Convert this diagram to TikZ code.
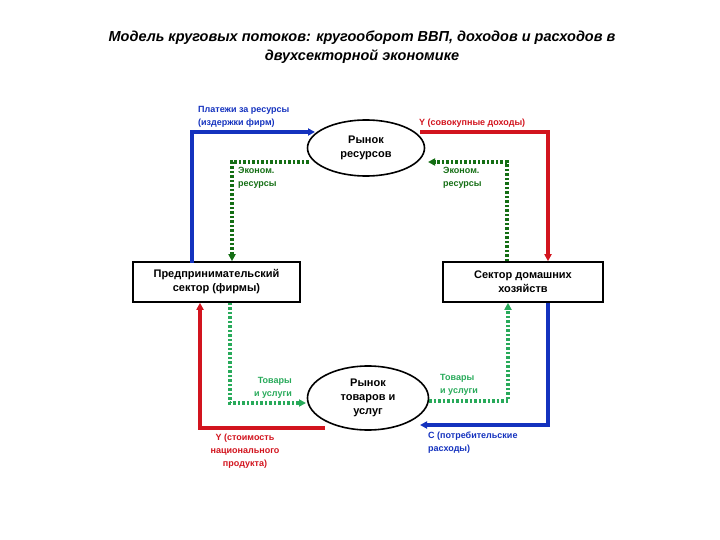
\documentclass[tikz,border=0pt]{standalone}
\usepackage{fontspec}
\setmainfont{Liberation Sans}
\usetikzlibrary{arrows.meta,shapes.geometric}
\begin{document}
\begin{tikzpicture}[x=1pt,y=-1pt,
  box/.style={draw,line width=1.6pt,minimum width=167pt,minimum height=40pt,align=center,font=\bfseries\fontsize{11}{14}\selectfont,inner sep=1pt},
  ell/.style={draw,ellipse,line width=1.6pt,align=center,font=\bfseries\fontsize{11}{14}\selectfont,inner sep=0pt},
  lab/.style={font=\bfseries\fontsize{9}{13}\selectfont,inner sep=0pt},
  solidarr/.style={line width=3.2pt,-{Triangle[length=7pt,width=7pt]}},
  dotarr/.style={line width=3.2pt,dash pattern=on 2.5pt off 2pt,-{Triangle[length=7pt,width=7pt]}}]
\useasboundingbox (0,0) rectangle (720,540);
\definecolor{bl}{RGB}{20,50,190}
\definecolor{rd}{RGB}{210,20,30}
\definecolor{dg}{RGB}{20,110,20}
\definecolor{lg}{RGB}{40,170,90}
\node[font=\bfseries\itshape\fontsize{14.5}{19}\selectfont,align=center] (title) at (362,47)
 {Модель круговых потоков: кругооборот ВВП, доходов и расходов в\\двухсекторной экономике};
\node[ell,minimum width=117pt,minimum height=56pt] (rr) at (366,148) {Рынок\\ресурсов};
\node[ell,minimum width=121pt,minimum height=64pt] (rg) at (368,398) {Рынок\\товаров и\\услуг};
\node[box] (f) at (216.5,282) {Предпринимательский\\сектор (фирмы)};
\node[box,minimum width=160pt] (h) at (523,282) {Сектор домашних\\хозяйств};
% top
\coordinate (a1) at (192,132);
\draw[solidarr,color=bl] (f.south west -| a1) ++(0,-40) -- (a1) -- (315,132);
\coordinate (a2) at (548,132);
\draw[solidarr,color=rd] (420,132) -- (a2) -- (a2 |- h.north);
\coordinate (a3) at (232,162);
\draw[dotarr,color=dg] (rr.west |- a3) ++(2,0) -- (a3) -- (a3 |- f.north);
\coordinate (a4) at (507,162);
\draw[dotarr,color=dg] (a4 |- h.north) -- (a4) -- (428,162);
% bottom
\coordinate (b1) at (200,428);
\draw[solidarr,color=rd] (325,428) -- (b1) -- (b1 |- f.south);
\coordinate (b2) at (230,403);
\draw[dotarr,color=lg] (b2 |- f.south) -- (b2) -- (306,403);
\coordinate (b3) at (508,401);
\draw[dotarr,color=lg] (429,401) -- (b3) -- (b3 |- h.south);
\coordinate (b4) at (548,425);
\draw[solidarr,color=bl] (b4 |- h.south) -- (b4) -- (420,425);
% labels
\node[lab,text=bl,align=left,anchor=south west] (l1) at (198,128) {Платежи за ресурсы\\(издержки фирм)};
\node[lab,text=rd,anchor=south west] (l2) at (419,128) {Y (совокупные доходы)};
\node[lab,text=dg,align=left,anchor=north west] (l3) at (238,167) {Эконом.\\ресурсы};
\node[lab,text=dg,align=left,anchor=north west] (l4) at (443,167) {Эконом.\\ресурсы};
\node[lab,text=lg,align=right,anchor=south east] (l5) at (292,399) {Товары\\и услуги};
\node[lab,text=lg,align=left,anchor=south west] (l6) at (440,396) {Товары\\и услуги};
\node[lab,text=rd,align=center,anchor=north] (l7) at (245,434) {Y (стоимость\\национального\\продукта)};
\node[lab,text=bl,align=left,anchor=north west] (l8) at (428,432) {C (потребительские\\расходы)};
\end{tikzpicture}
\end{document}
